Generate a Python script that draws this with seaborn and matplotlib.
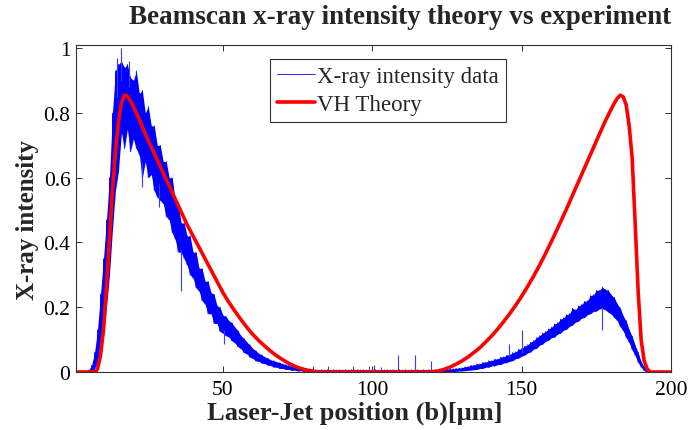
import numpy as np
import matplotlib
matplotlib.use("Agg")
import matplotlib.pyplot as plt
import seaborn as sns

# Beam scan: detector readout sampled every 1 um (low / high extent of the noisy trace)
scan_um = [
    1, 2, 3, 4, 5, 6, 7, 8, 9, 10, 11, 12, 13, 14, 15, 16, 17, 18, 19, 20,
    21, 22, 23, 24, 25, 26, 27, 28, 29, 30, 31, 32, 33, 34, 35, 36, 37, 38, 39, 40,
    41, 42, 43, 44, 45, 46, 47, 48, 49, 50, 51, 52, 53, 54, 55, 56, 57, 58, 59, 60,
    61, 62, 63, 64, 65, 66, 67, 68, 69, 70, 71, 72, 73, 74, 75, 76, 77, 78, 79, 80,
    81, 82, 83, 84, 85, 86, 87, 88, 89, 90, 91, 92, 93, 94, 95, 96, 97, 98, 99, 100,
    101, 102, 103, 104, 105, 106, 107, 108, 109, 110, 111, 112, 113, 114, 115, 116, 117, 118, 119, 120,
    121, 122, 123, 124, 125, 126, 127, 128, 129, 130, 131, 132, 133, 134, 135, 136, 137, 138, 139, 140,
    141, 142, 143, 144, 145, 146, 147, 148, 149, 150, 151, 152, 153, 154, 155, 156, 157, 158, 159, 160,
    161, 162, 163, 164, 165, 166, 167, 168, 169, 170, 171, 172, 173, 174, 175, 176, 177, 178, 179, 180,
    181, 182, 183, 184, 185, 186, 187, 188, 189, 190, 191, 192, 193, 194, 195, 196, 197, 198, 199, 200,
]

signal_low = [
    -0.002, -0.003, -0.002, -0.003, -0.002, 0.000, 0.010, 0.030, 0.060, 0.110,
    0.200, 0.300, 0.440, 0.560, 0.620, 0.740, 0.690, 0.750, 0.680, 0.720,
    0.690, 0.670, 0.600, 0.650, 0.600, 0.610, 0.560, 0.540, 0.530, 0.520,
    0.480, 0.470, 0.430, 0.410, 0.370, 0.370, 0.350, 0.330, 0.300, 0.290,
    0.260, 0.250, 0.220, 0.210, 0.180, 0.180, 0.150, 0.150, 0.125, 0.120,
    0.112, 0.108, 0.096, 0.090, 0.078, 0.072, 0.060, 0.056, 0.046, 0.042,
    0.034, 0.033, 0.027, 0.026, 0.021, 0.020, 0.015, 0.015, 0.011, 0.011,
    0.008, 0.008, 0.005, 0.006, 0.003, 0.004, 0.002, 0.003, 0.001, 0.001,
    0.000, -0.001, 0.000, -0.001, 0.000, -0.001, 0.000, -0.001, 0.000, -0.001,
    0.000, -0.001, 0.000, -0.001, 0.000, -0.001, 0.000, -0.001, 0.000, -0.001,
    0.000, -0.001, 0.000, -0.001, 0.000, -0.001, 0.000, -0.001, 0.000, -0.001,
    0.000, -0.001, 0.000, -0.001, 0.000, -0.001, 0.000, -0.001, 0.000, -0.001,
    0.000, 0.000, 0.000, 0.000, 0.000, 0.001, 0.001, 0.002, 0.003, 0.003,
    0.004, 0.005, 0.006, 0.007, 0.008, 0.011, 0.011, 0.015, 0.015, 0.019,
    0.019, 0.023, 0.023, 0.028, 0.029, 0.033, 0.035, 0.041, 0.043, 0.049,
    0.052, 0.059, 0.062, 0.071, 0.073, 0.083, 0.086, 0.095, 0.098, 0.106,
    0.108, 0.117, 0.120, 0.129, 0.132, 0.141, 0.145, 0.154, 0.157, 0.166,
    0.168, 0.177, 0.180, 0.187, 0.188, 0.195, 0.196, 0.192, 0.185, 0.179,
    0.168, 0.159, 0.140, 0.127, 0.106, 0.091, 0.068, 0.051, 0.029, 0.015,
    0.004, 0.000, -0.001, -0.001, -0.001, -0.001, -0.001, -0.001, -0.001, -0.001,
]

signal_high = [
    0.003, 0.002, 0.004, 0.003, 0.006, 0.020, 0.060, 0.130, 0.240, 0.350,
    0.470, 0.600, 0.800, 0.930, 0.950, 0.960, 0.940, 0.950, 0.910, 0.900,
    0.930, 0.860, 0.870, 0.800, 0.820, 0.760, 0.760, 0.700, 0.700, 0.650,
    0.650, 0.600, 0.600, 0.530, 0.520, 0.460, 0.460, 0.420, 0.420, 0.370,
    0.370, 0.320, 0.320, 0.280, 0.280, 0.245, 0.240, 0.205, 0.200, 0.175,
    0.172, 0.158, 0.152, 0.138, 0.128, 0.112, 0.104, 0.092, 0.084, 0.072,
    0.066, 0.057, 0.053, 0.046, 0.043, 0.037, 0.035, 0.031, 0.029, 0.025,
    0.023, 0.020, 0.018, 0.016, 0.014, 0.013, 0.012, 0.010, 0.010, 0.008,
    0.007, 0.006, 0.007, 0.006, 0.007, 0.006, 0.007, 0.006, 0.007, 0.006,
    0.007, 0.006, 0.007, 0.006, 0.007, 0.006, 0.007, 0.006, 0.007, 0.006,
    0.007, 0.006, 0.007, 0.006, 0.007, 0.006, 0.007, 0.006, 0.007, 0.006,
    0.007, 0.006, 0.007, 0.006, 0.007, 0.006, 0.007, 0.006, 0.007, 0.006,
    0.007, 0.007, 0.008, 0.008, 0.008, 0.009, 0.010, 0.011, 0.012, 0.013,
    0.016, 0.017, 0.021, 0.021, 0.025, 0.025, 0.030, 0.030, 0.035, 0.035,
    0.040, 0.040, 0.046, 0.047, 0.052, 0.054, 0.060, 0.062, 0.070, 0.072,
    0.080, 0.084, 0.092, 0.097, 0.106, 0.112, 0.120, 0.125, 0.133, 0.138,
    0.148, 0.152, 0.163, 0.167, 0.177, 0.180, 0.197, 0.192, 0.204, 0.208,
    0.218, 0.220, 0.236, 0.238, 0.252, 0.252, 0.262, 0.255, 0.252, 0.238,
    0.230, 0.210, 0.198, 0.173, 0.158, 0.130, 0.110, 0.082, 0.060, 0.032,
    0.016, 0.006, 0.002, 0.002, 0.002, 0.002, 0.002, 0.002, 0.002, 0.002,
]

# isolated single-sample excursions of the readout (position, band edge, tip)
spike_um = [14.5, 16, 18.5, 23, 28.5, 36, 50.3, 80, 85, 93.4, 99, 100.7,
            103, 108.5, 114.2, 119.5, 145.8, 150, 177]
spike_base = [0.85, 0.90, 0.88, 0.65, 0.58, 0.38, 0.13, 0.005, 0.005, 0.005, 0.005, 0.005,
              0.005, 0.005, 0.005, 0.005, 0.045, 0.06, 0.20]
spike_tip = [0.97, 1.0, 0.96, 0.57, 0.51, 0.25, 0.087, 0.02, 0.02, 0.02, 0.02, 0.022,
             0.015, 0.053, 0.054, 0.034, 0.087, 0.13, 0.13]

# VH theory curve
theory_um = [
    1, 4, 7, 7.5, 8, 9, 10, 11, 12, 13, 14, 15, 16, 17, 18, 19, 20,
    22, 24, 26, 28, 30, 32, 34, 36, 38, 40, 42, 44, 46, 48, 50,
    52, 54, 56, 58, 60, 62, 64, 66, 68, 70, 72, 74, 76, 78, 80, 82,
    90, 100, 110, 119.5, 122, 124, 126, 128, 130, 132, 134, 136, 138, 140,
    142, 144, 146, 148, 150, 152, 154, 156, 158, 160, 162, 164, 166, 168,
    170, 172, 174, 176, 178, 180, 181, 182, 183, 184, 185, 186, 187, 188,
    189, 190, 191, 192, 193, 200,
]
theory_val = [
    0, 0, 0, 0.002, 0.01, 0.05, 0.13, 0.26, 0.41, 0.56, 0.68, 0.77, 0.83, 0.855, 0.852, 0.838, 0.82,
    0.78, 0.735, 0.695, 0.655, 0.615, 0.575, 0.535, 0.495, 0.455, 0.42, 0.385, 0.35, 0.315, 0.28, 0.245,
    0.215, 0.188, 0.162, 0.138, 0.116, 0.097, 0.08, 0.064, 0.05, 0.038, 0.027, 0.018, 0.011, 0.006, 0.002, 0,
    0, 0, 0, 0, 0.003, 0.008, 0.015, 0.024, 0.034, 0.046, 0.06, 0.075, 0.093, 0.112,
    0.133, 0.156, 0.18, 0.206, 0.234, 0.264, 0.296, 0.33, 0.366, 0.404, 0.443, 0.483, 0.524, 0.566,
    0.608, 0.65, 0.692, 0.734, 0.775, 0.812, 0.83, 0.845, 0.855, 0.85, 0.825, 0.76, 0.66, 0.46,
    0.25, 0.1, 0.035, 0.01, 0, 0,
]

x_ticks = [50, 100, 150, 200]
y_ticks = [0, 0.2, 0.4, 0.6, 0.8, 1]
y_tick_labels = ["0", "0.2", "0.4", "0.6", "0.8", "1"]

sns.set_theme(style="white")
plt.rcParams["font.family"] = ["Liberation Serif", "DejaVu Serif"]

W, H = 689, 431
fig = plt.figure(figsize=(W / 100, H / 100), dpi=100)
ax = fig.add_axes([76 / W, 1 - 373 / H, 595 / W, 327 / H])

BLUE = "#0000ff"

# dense noisy band of the measurement
ax.fill_between(scan_um, signal_low, signal_high, color=BLUE, linewidth=0)
trace_x = np.repeat(np.asarray(scan_um, float), 2)
trace_y = np.column_stack([signal_low, signal_high]).ravel()
sns.lineplot(x=trace_x, y=trace_y, estimator=None, sort=False, color=BLUE,
             linewidth=0.6, ax=ax, label="X-ray intensity data")
ax.vlines(spike_um, spike_base, spike_tip, color="#3a3aff", linewidth=0.8)

sns.lineplot(x=theory_um, y=theory_val, estimator=None, sort=False, color="#ff0000",
             linewidth=2.6, ax=ax, label="VH Theory")

ax.set_xlim(0.8, 200)
ax.set_ylim(0, 1.01)
ax.set_xticks(x_ticks)
ax.set_xticklabels([str(t) for t in x_ticks])
ax.set_yticks(y_ticks)
ax.set_yticklabels(y_tick_labels)
ax.set_xlabel("")
ax.set_ylabel("")

for sp in ax.spines.values():
    sp.set_visible(True)
    sp.set_color("#333333")
    sp.set_linewidth(0.8)
ax.tick_params(direction="in", length=4, width=0.7, color="#333333",
               top=True, right=True, bottom=True, left=True,
               labelsize=15.5, labelcolor="black")
ax.tick_params(axis="x", pad=6)
ax.tick_params(axis="y", pad=4)

leg = ax.legend(loc="upper left", bbox_to_anchor=(270 / W, 1 - 60 / H),
                bbox_transform=fig.transFigure, frameon=True, fancybox=False,
                edgecolor="#333333", framealpha=1, fontsize=16.5, handlelength=1.65,
                borderpad=0.3, labelspacing=0.3, handletextpad=0.1,
                borderaxespad=0)
leg.get_frame().set_linewidth(0.8)

fig.text(400 / W, 1 - 18 / H, "Beamscan x-ray intensity theory vs experiment",
         ha="center", va="center", fontsize=19.5, fontweight="bold")
fig.text(355 / W, 1 - 420 / H, "Laser-Jet position (b)[\u03bcm]",
         ha="center", va="baseline", fontsize=19, fontweight="bold")
fig.text(28 / W, 1 - 220 / H, "X-ray intensity", rotation=90,
         ha="center", va="center", fontsize=18, fontweight="bold")

fig.savefig("out.png", dpi=100)
